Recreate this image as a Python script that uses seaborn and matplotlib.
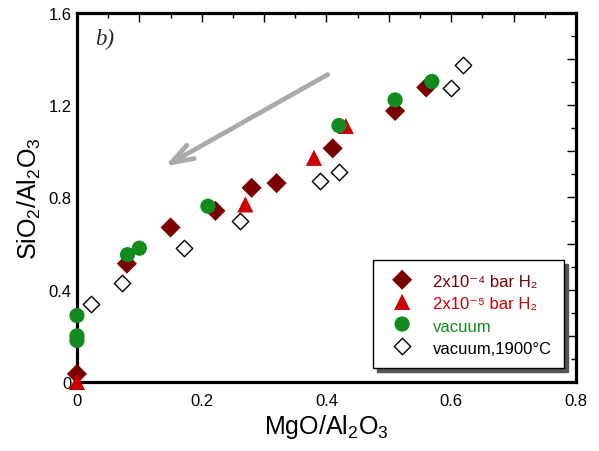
import matplotlib
matplotlib.use("Agg")
import matplotlib.pyplot as plt
from matplotlib.ticker import MultipleLocator, FuncFormatter
import seaborn as sns
import pandas as pd

# MgO/Al2O3 vs SiO2/Al2O3 for each run condition
h2_4_x = [0.0, 0.08, 0.15, 0.222, 0.28, 0.32, 0.41, 0.51, 0.56]
h2_4_y = [0.035, 0.513, 0.67, 0.742, 0.842, 0.862, 1.013, 1.175, 1.277]

h2_5_x = [0.0, 0.27, 0.38, 0.431]
h2_5_y = [0.0, 0.77, 0.972, 1.11]

vac_x = [0.0, 0.0, 0.0, 0.081, 0.10, 0.21, 0.42, 0.51, 0.569]
vac_y = [0.288, 0.20, 0.18, 0.552, 0.58, 0.762, 1.112, 1.223, 1.303]

vac1900_x = [0.022, 0.0715, 0.171, 0.261, 0.39, 0.42, 0.60, 0.619]
vac1900_y = [0.34, 0.43, 0.58, 0.70, 0.871, 0.912, 1.274, 1.373]

labels = ["2x10\u207b\u2074 bar H\u2082", "2x10\u207b\u2075 bar H\u2082", "vacuum", "vacuum,1900°C"]
colors = ["#7a0000", "#cc0000", "#118a1e", "black"]

sns.set_theme(style="white")
plt.rcParams["font.family"] = ["Liberation Sans", "DejaVu Sans"]
plt.rcParams["mathtext.default"] = "regular"

fig = plt.figure(figsize=(5.99, 4.52), dpi=100)
ax = fig.add_axes([0.1285, 0.1527, 0.833, 0.8164])

frames = [
    pd.DataFrame({"x": h2_4_x, "y": h2_4_y}),
    pd.DataFrame({"x": h2_5_x, "y": h2_5_y}),
    pd.DataFrame({"x": vac_x, "y": vac_y}),
    pd.DataFrame({"x": vac1900_x, "y": vac1900_y}),
]
styles = [
    dict(marker="D", s=105, color=colors[0], edgecolor="none"),
    dict(marker="^", s=135, color=colors[1], edgecolor="none"),
    dict(marker="o", s=120, color=colors[2], edgecolor="none"),
    dict(marker="D", s=70, facecolor="white", edgecolor="black", linewidth=1.0),
]
for df, st, lab in zip(frames, styles, labels):
    sns.scatterplot(data=df, x="x", y="y", ax=ax, label=lab, clip_on=False,
                    zorder=3, **st)

ax.set_xlim(0, 0.8)
ax.set_ylim(0, 1.6)

ax.xaxis.set_major_locator(MultipleLocator(0.1))
ax.xaxis.set_minor_locator(MultipleLocator(0.05))
ax.yaxis.set_major_locator(MultipleLocator(0.2))
ax.yaxis.set_minor_locator(MultipleLocator(0.1))


def every_other(step):
    def fmt(v, pos):
        k = round(v / step, 6)
        if abs(k - round(k)) > 1e-6:
            return ""
        if abs(v) < 1e-9:
            return "0"
        return f"{v:.1f}"
    return FuncFormatter(fmt)


ax.xaxis.set_major_formatter(every_other(0.2))
ax.yaxis.set_major_formatter(every_other(0.4))

ax.tick_params(which="both", direction="in", top=True, right=True,
               color="black", width=1.0)
ax.tick_params(which="major", length=6.5, labelsize=12, colors="black")
ax.tick_params(which="minor", length=3.5)
ax.tick_params(axis="x", which="major", pad=8)
ax.tick_params(axis="y", which="major", pad=4)

for sp in ax.spines.values():
    sp.set_visible(True)
    sp.set_color("black")
    sp.set_linewidth(2.3)

ax.set_xlabel(r"MgO/Al$_2$O$_3$", fontsize=18, labelpad=3, color="black")
ax.set_ylabel(r"SiO$_2$/Al$_2$O$_3$", fontsize=18, labelpad=4, color="black")

ax.text(0.036, 0.916, "b)", transform=ax.transAxes, fontsize=16.5,
        family="Liberation Serif", style="italic", va="baseline", ha="left")

ax.annotate("", xy=(0.141, 0.935), xytext=(0.402, 1.333),
            arrowprops=dict(arrowstyle="->,head_length=1.6,head_width=0.55",
                            color="#aaaaaa", lw=3.4, shrinkA=0, shrinkB=0,
                            mutation_scale=10))

leg = ax.legend(loc="lower right", bbox_to_anchor=(0.976, 0.038),
                fontsize=12, frameon=True, fancybox=False, framealpha=1,
                edgecolor="black", labelcolor=colors, handletextpad=0.8,
                borderpad=0.72, labelspacing=0.27, handlelength=2.1,
                handleheight=1.25, borderaxespad=0,
                shadow={"ox": 3, "oy": -3, "color": "#555555", "alpha": 1})
leg.get_frame().set_linewidth(1.0)
leg.set_zorder(5)

fig.savefig("out.png", dpi=100)
